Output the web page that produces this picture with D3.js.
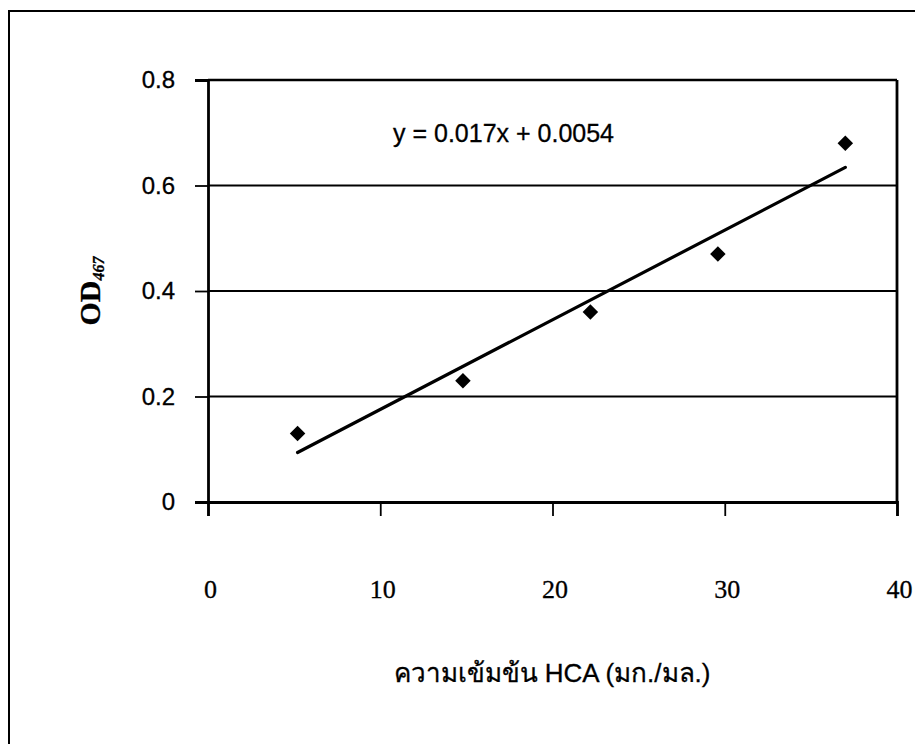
<!DOCTYPE html>
<html>
<head>
<meta charset="utf-8">
<script src="https://cdn.jsdelivr.net/npm/d3@7"></script>
<style>
  body { margin: 0; background: #fff; }
  svg { display: block; }
  /* scanned print looks a little heavier than screen type */
  text { stroke: #000; stroke-width: 0.3px; fill: #000; }
</style>
</head>
<body>
<svg id="chart" width="915" height="744"></svg>
<script>
// data
var hca = [5.2, 14.8, 22.2, 29.6, 37];
var od = [0.13, 0.23, 0.36, 0.47, 0.68];
var xTicks = [0, 10, 20, 30, 40];
var yTicks = [0, 0.2, 0.4, 0.6, 0.8];
var slope = 0.017, intercept = 0.0054;

var svg = d3.select('#chart');

// outer chart frame (runs off the right/bottom of the scan)
svg.append('rect')
	.attr('x', 9).attr('y', 11)
	.attr('width', 930).attr('height', 760)
	.style('fill', 'none').style('stroke', '#000').style('stroke-width', 2);

// plot area edges ("top" is a window global, so prefix them)
var pLeft = 208, pRight = 897, pTop = 80, pBottom = 502;

var x = d3.scaleLinear().domain([0, 40]).range([pLeft, pRight]);
var y = d3.scaleLinear().domain([0, 0.8]).range([pBottom, pTop]);

var g = svg.append('g');

// gridlines
g.selectAll('.grid').data(yTicks.filter(function(d){ return d > 0; }))
	.enter().append('line')
	.attr('class', 'grid')
	.attr('x1', pLeft).attr('x2', pRight)
	.attr('y1', function(d){ return y(d); })
	.attr('y2', function(d){ return y(d); })
	.style('stroke', '#000').style('stroke-width', 1.8);

// top gridline is a bit heavier (plot frame)
g.append('line')
	.attr('x1', pLeft).attr('x2', pRight)
	.attr('y1', pTop).attr('y2', pTop)
	.style('stroke', '#000').style('stroke-width', 2.4);

// right border of plot area
g.append('line')
	.attr('x1', pRight).attr('x2', pRight)
	.attr('y1', pTop).attr('y2', pBottom)
	.style('stroke', '#000').style('stroke-width', 2.8);

// y axis
var yAxis = d3.axisLeft(y).tickValues(yTicks).tickSize(13).tickPadding(20)
	.tickFormat(function(d){ return d === 0 ? '0' : d3.format('.1f')(d); });
var ya = g.append('g').attr('transform', 'translate(' + pLeft + ',0)').call(yAxis);
ya.select('.domain').style('stroke-width', 2.8);
ya.selectAll('.tick line').style('stroke-width', 1.8);
ya.selectAll('text')
	.style('font-family', '"Liberation Sans", Arial, sans-serif')
	.style('font-size', '24px');

// x axis (labels sit well below the axis line)
var xAxis = d3.axisBottom(x).tickValues(xTicks).tickSize(14).tickPadding(64);
var xa = g.append('g').attr('transform', 'translate(0,' + pBottom + ')').call(xAxis);
xa.select('.domain').style('stroke-width', 2.8);
xa.selectAll('.tick line').style('stroke-width', 1.8);
xa.selectAll('text')
	.attr('dx', 2)
	.style('font-family', '"Liberation Serif", "Times New Roman", serif')
	.style('font-size', '26px');

// trendline
var x0 = d3.min(hca), x1 = d3.max(hca);
g.append('line')
	.attr('x1', x(x0)).attr('y1', y(slope * x0 + intercept))
	.attr('x2', x(x1)).attr('y2', y(slope * x1 + intercept))
	.style('stroke', '#000').style('stroke-width', 3.2)
	.style('stroke-linecap', 'round');

// diamond markers
var diamond = d3.symbol().type(d3.symbolSquare).size(120);
g.selectAll('.pt').data(hca)
	.enter().append('path')
	.attr('class', 'pt')
	.attr('d', diamond)
	.attr('transform', function(d, i){
		return 'translate(' + x(d) + ',' + y(od[i]) + ') rotate(45)';
	})
	.style('fill', '#000');

// equation label
g.append('text')
	.attr('x', 393).attr('y', 142)
	.style('font-family', '"Liberation Sans", Arial, sans-serif')
	.style('font-size', '25px')
	.text('y = ' + slope + 'x + ' + intercept);

// y title: OD with italic subscript
var yt = svg.append('text')
	.attr('transform', 'translate(100,291) rotate(-90)')
	.attr('text-anchor', 'middle')
	.style('font-family', '"Liberation Serif", "Times New Roman", serif')
	.style('font-weight', 'bold').style('font-size', '30px');
yt.append('tspan').text('OD');
yt.append('tspan').attr('dy', 4).style('font-size', '16px').style('font-style', 'italic').text('467');

// x title
svg.append('text')
	.attr('x', 552).attr('y', 682)
	.attr('text-anchor', 'middle')
	.style('font-family', '"Liberation Sans", "DejaVu Sans", Arial, sans-serif')
	.style('font-size', '26px')
	.text('ความเข้มข้น HCA (มก./มล.)');
</script>
</body>
</html>
